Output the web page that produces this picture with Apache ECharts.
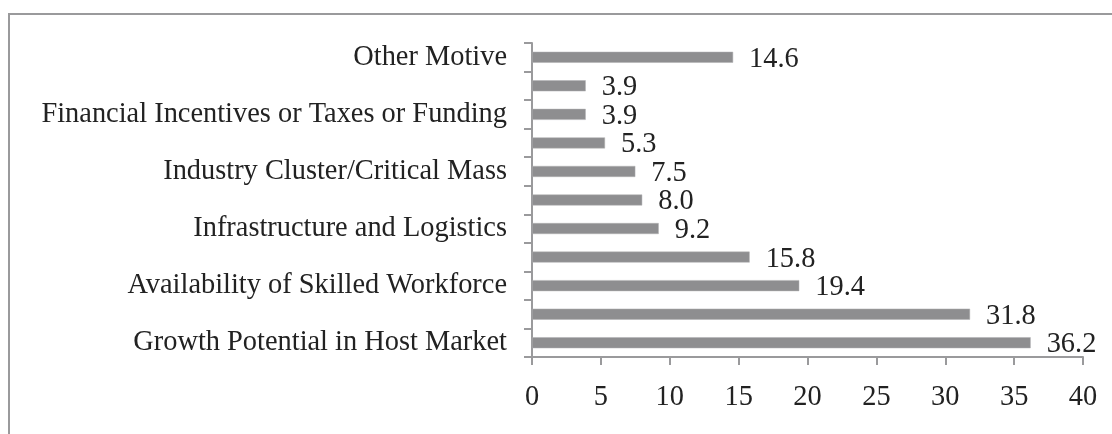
<!DOCTYPE html>
<html>
<head>
<meta charset="utf-8">
<script src="https://cdn.jsdelivr.net/npm/echarts@6/dist/echarts.min.js"></script>
<style>
  html, body { margin: 0; padding: 0; background: #fff; }
  #main { width: 1112px; height: 434px; }
</style>
</head>
<body>
<div id="main"></div>
<script type="text/javascript">
    // bottom to top, only every other name is printed in the figure
    var motives = [
        'Growth Potential in Host Market',
        'Access to Regional Markets',
        'Availability of Skilled Workforce',
        'Cost Competitiveness',
        'Infrastructure and Logistics',
        'Political and Economic Stability',
        'Industry Cluster/Critical Mass',
        'Proximity to Customers',
        'Financial Incentives or Taxes or Funding',
        'Quality of Life',
        'Other Motive'
    ];
    var shares = [36.2, 31.8, 19.4, 15.8, 9.2, 8.0, 7.5, 5.3, 3.9, 3.9, 14.6];
    var xTicks = [0, 5, 10, 15, 20, 25, 30, 35, 40];

    var serif = 'Liberation Serif';
    var axisGrey = '#9a9a9c';
    var fs = 28.4;

    var chart = echarts.init(document.getElementById('main'));
    chart.setOption({
        animation: false,
        textStyle: { fontFamily: serif },
        graphic: [{
            type: 'rect',
            shape: { x: 9, y: 14, width: 1300, height: 600 },
            style: { fill: 'none', stroke: axisGrey, lineWidth: 2 },
            silent: true
        }],
        grid: { left: 532, right: 29, top: 43, bottom: 77, containLabel: false },
        xAxis: {
            type: 'value',
            min: xTicks[0],
            max: xTicks[xTicks.length - 1],
            interval: 5,
            splitLine: { show: false },
            axisLine: { show: true, lineStyle: { color: axisGrey, width: 2 } },
            axisTick: { show: true, length: 8, lineStyle: { color: axisGrey, width: 2 } },
            axisLabel: { fontFamily: serif, fontSize: fs, color: '#222', margin: 27 }
        },
        yAxis: {
            type: 'category',
            data: motives,
            axisLine: { show: true, lineStyle: { color: axisGrey, width: 2 } },
            axisTick: { show: true, interval: 0, length: 8, lineStyle: { color: axisGrey, width: 2 } },
            axisLabel: { interval: 1, fontFamily: serif, fontSize: fs, color: '#222', margin: 25 }
        },
        series: [{
            type: 'bar',
            data: shares,
            barWidth: 11,
            itemStyle: { color: '#8e8e90', borderColor: '#b0b0b2', borderWidth: 0.5 },
            label: {
                show: true,
                position: 'right',
                distance: 16,
                offset: [0, 2],
                fontFamily: serif,
                fontSize: fs,
                color: '#222',
                formatter: function (p) { return p.value.toFixed(1); }
            }
        }]
    });
</script>
</body>
</html>
